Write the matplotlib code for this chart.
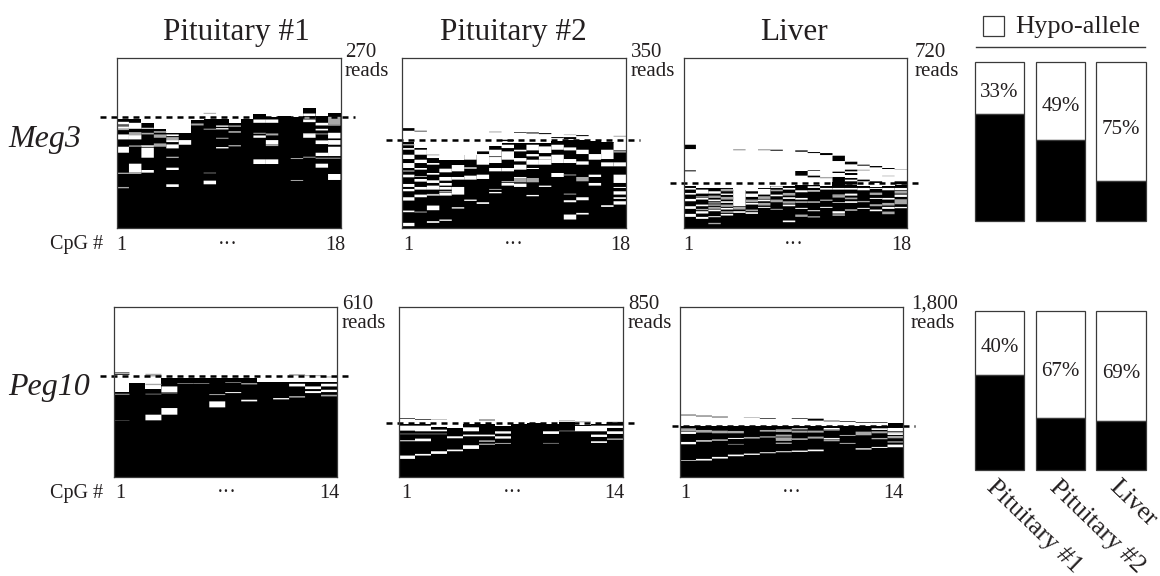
import matplotlib
matplotlib.use('Agg')
import matplotlib.pyplot as plt

plt.rcParams['font.family'] = ['Liberation Serif', 'DejaVu Serif']

tissues = ['Pituitary #1', 'Pituitary #2', 'Liver']

# read positions are in rows counted from the top of a panel, 510 rows high
# tops: first solid row of each CpG column, white/grey: bands cut out of the
# black per column, above: black dashes sitting over the solid part
meg3_p1_tops = [185, 185, 195, 213, 225, 225, 188, 185, 185, 195, 185, 168, 177, 175, 177, 150, 175, 165]
meg3_p1_white = [
    [(192, 200), (207, 213), (230, 245), (267, 285)], [(195, 213), (232, 245), (318, 345)],
    [(210, 213), (262, 268), (270, 300), (337, 345)], [],
    [(230, 235), (247, 253), (260, 272), (330, 337), (380, 388)], [(247, 261)], [],
    [(213, 215), (369, 380)], [(203, 207), (211, 215), (268, 272)], [], [],
    [(185, 195), (233, 240), (305, 319)], [(185, 195), (247, 259), (305, 319)], [], [],
    [(167, 175), (185, 193), (227, 240)],
    [(195, 203), (213, 218), (248, 259), (285, 295), (318, 330)],
    [(200, 203), (225, 242), (247, 261), (267, 295), (349, 367)],
]
meg3_p1_grey = [
    [(203, 207), (213, 217), (345, 349), (388, 392)], [(223, 232), (263, 267), (345, 349)],
    [(225, 230), (262, 266)], [(220, 225), (230, 240), (257, 267)], [(238, 247), (297, 301)], [],
    [(197, 203)], [(165, 168), (345, 347)], [(240, 243)], [(203, 207), (220, 225), (262, 266)], [],
    [(225, 228)], [(227, 233), (259, 265)], [], [(301, 304), (367, 370)],
    [(178, 183), (227, 229), (297, 300)], [(227, 230), (300, 303)], [(177, 200), (300, 303)],
]
meg3_p1_above = [[] for _ in range(18)]

meg3_p2_tops = [254, 271, 286, 306, 306, 291, 281, 266, 256, 256, 256, 256, 251, 246, 246, 251, 254, 276]
meg3_p2_white = [
    [(271, 276), (291, 304), (316, 331), (351, 359), (379, 388), (394, 401), (419, 429), (459, 464), (496, 506)],
    [(276, 291), (306, 316), (331, 336), (364, 372), (388, 396), (411, 419)],
    [(273, 301), (316, 321), (346, 351), (368, 376), (384, 396), (409, 414), (444, 458), (491, 496)],
    [(291, 306), (333, 344), (358, 369), (376, 384), (388, 396), (406, 414), (486, 490)],
    [(276, 306), (322, 341), (358, 366), (388, 411), (449, 453)],
    [(276, 306), (329, 333), (354, 366), (426, 430)],
    [(261, 281), (289, 321), (351, 364), (434, 439)],
    [(276, 296), (298, 316), (331, 341), (394, 396), (403, 407)],
    [(261, 271), (281, 306), (331, 341), (376, 384)],
    [(276, 281), (301, 311), (321, 336), (358, 361), (378, 388)],
    [(261, 278), (289, 296), (306, 321), (331, 334), (412, 416)],
    [(266, 286), (296, 306), (306, 321), (384, 388)],
    [(261, 276), (291, 316), (346, 358)],
    [(269, 278), (304, 316), (351, 353), (428, 434), (471, 486)],
    [(276, 289), (311, 321), (419, 428), (466, 471)],
    [(289, 306), (351, 358), (376, 384)],
    [(276, 304), (314, 326), (443, 448)],
    [(254, 278), (281, 284), (314, 326), (351, 376), (388, 391), (401, 411), (419, 424), (431, 441)],
]
meg3_p2_grey = [
    [(259, 263), (338, 342)], [(355, 358), (462, 465)], [(290, 293), (410, 412)], [(400, 405)], [], [], [],
    [(221, 224)], [(370, 374)], [(361, 374)], [(361, 374)], [], [], [(230, 232), (408, 411)],
    [(358, 371)], [], [], [(234, 237)],
]
meg3_p2_above = [
    [(211, 219)], [(219, 221)], [], [], [], [], [], [], [(246, 250)], [(223, 225)], [(224, 227)],
    [(226, 229)], [(238, 241)], [(238, 244)], [(232, 235)], [], [], [],
]

meg3_liver_tops = [384, 390, 392, 392, 396, 392, 392, 386, 384, 382, 382, 384, 374, 382, 386, 388, 384, 382]
meg3_liver_white = [
    [(391, 396), (406, 411), (424, 431), (446, 454), (469, 478)],
    [(396, 408), (421, 426), (441, 446), (461, 468), (478, 484)],
    [(401, 408), (426, 431), (441, 444), (456, 461), (476, 479)],
    [(408, 412), (431, 436), (451, 456), (469, 474)],
    [(396, 446), (461, 466)],
    [(391, 401), (408, 418), (436, 441), (464, 469)],
    [(394, 411), (426, 431), (448, 451)],
    [(386, 391), (411, 416), (454, 456)],
    [(391, 396), (419, 424), (441, 446), (489, 494)],
    [(398, 404), (421, 426), (451, 454)],
    [(386, 391), (398, 402), (458, 461)],
    [(391, 396), (448, 451)],
    [(391, 396), (411, 414), (434, 436), (461, 468)],
    [(391, 396), (408, 414), (431, 436)],
    [(391, 398), (451, 454)],
    [(391, 394), (421, 424), (456, 461)],
    [(391, 398), (421, 426), (448, 454)],
    [(391, 398), (411, 418), (448, 452)],
]
meg3_liver_grey = [
    [], [(416, 420), (454, 458)], [(414, 421), (434, 438), (448, 454), (496, 500)],
    [(394, 401), (418, 426), (441, 448), (461, 466)], [(274, 278), (448, 456)],
    [(426, 434), (456, 461)], [(274, 278), (416, 424), (436, 444)], [(396, 401), (426, 434)],
    [(406, 414), (431, 438)], [(431, 436), (471, 478)], [(431, 436), (476, 480)],
    [(358, 362), (426, 430)], [(414, 420), (470, 475)], [(420, 425), (455, 460)],
    [(336, 339), (430, 434)], [(405, 412), (440, 446)], [(354, 356), (436, 444), (462, 470)],
    [(334, 336), (400, 408), (425, 440)],
]
meg3_liver_above = [
    [(261, 274), (338, 341)], [], [], [], [], [], [], [(276, 279)], [],
    [(278, 282), (340, 354)], [(283, 286), (338, 340), (354, 359)], [(286, 292)],
    [(294, 310), (342, 346), (358, 381)], [(312, 320), (336, 341), (346, 352), (361, 366), (371, 381)],
    [(321, 324), (366, 371)], [(325, 329), (371, 376)], [(331, 334)], [(371, 380)],
]

peg10_p1_tops = [256, 229, 247, 214, 214, 214, 214, 214, 214, 227, 227, 227, 227, 227]
peg10_p1_white = [
    [], [], [(324, 341)], [(239, 256), (304, 324)], [], [], [(284, 302)], [(256, 259)],
    [(279, 284)], [], [(274, 278)], [(231, 239), (269, 272)], [(239, 247), (253, 259)],
    [(231, 239), (249, 256)],
]
peg10_p1_grey = [
    [(261, 264), (340, 341)], [], [(201, 209), (231, 235), (261, 263)], [(257, 260)],
    [(229, 231)], [(229, 231)], [(262, 265)], [(226, 228)], [(229, 233)], [], [],
    [(202, 207)], [(205, 208)], [(209, 212), (264, 269)],
]
peg10_p1_above = [
    [(197, 199), (201, 204)], [], [], [], [], [], [], [], [], [], [], [], [], [],
]

peg10_p2_tops = [351, 351, 361, 363, 351, 351, 357, 351, 349, 351, 345, 354, 351, 347]
peg10_p2_white = [
    [(357, 372), (401, 404), (447, 457)], [(357, 374), (396, 404), (442, 447)],
    [(369, 374), (434, 442)], [(389, 395), (429, 434)], [(362, 374), (384, 389), (416, 427)],
    [(384, 389)], [(374, 381), (389, 396)], [], [], [(374, 382)], [], [(358, 374)],
    [(357, 374), (384, 391), (404, 409)], [(357, 364), (374, 382), (396, 399)],
]
peg10_p2_grey = [
    [(381, 383)], [(381, 383)], [(337, 339), (381, 383)], [], [], [(401, 406), (411, 415)],
    [(409, 412)], [], [], [(409, 411)], [(341, 344), (372, 374)], [(344, 347)], [], [(345, 347)],
]
peg10_p2_above = [
    [(334, 336)], [(337, 339)], [], [], [], [(339, 341)], [], [], [], [], [], [], [], [],
]

peg10_liver_tops = [359, 359, 359, 359, 359, 359, 359, 359, 359, 359, 359, 359, 359, 349]
peg10_liver_white = [
    [(376, 382), (406, 413), (461, 463)], [(401, 405), (457, 462)], [(451, 456)],
    [(394, 397), (444, 449)], [(441, 445)], [(437, 440)], [(393, 396), (434, 437)],
    [(365, 368), (432, 436)], [(429, 434)], [(364, 369), (394, 397)], [(409, 411)],
    [(425, 429)], [(365, 370), (421, 424)], [(364, 374), (379, 385), (414, 422)],
]
peg10_liver_grey = [
    [(365, 375)], [(370, 378)], [(372, 380), (398, 403)], [(373, 380), (412, 414)],
    [(331, 333), (391, 396)], [(370, 375), (389, 393)],
    [(368, 376), (384, 390), (394, 403), (408, 412)], [(372, 378), (395, 400)],
    [(372, 378), (390, 396)], [(368, 372), (398, 404)], [(385, 388)], [(375, 386)],
    [(374, 380), (394, 398)], [(376, 380), (388, 395), (404, 408)],
]
peg10_liver_above = [
    [(324, 326)], [(327, 329)], [(330, 332)], [], [], [(334, 336)], [], [(334, 336)],
    [(336, 342)], [(342, 344)], [(344, 346)], [(346, 348)], [(347, 349)], [],
]

# row of the dashed threshold in each panel
meg3_cutoffs = [177, 248, 376]
peg10_cutoffs = [209, 349, 357]

meg3_reads = ['270', '350', '720']
peg10_reads = ['610', '850', '1,800']

meg3_hypo = [33, 49, 75]
peg10_hypo = [40, 67, 69]

INK = '#231f20'
W, H = 1160, 576
fig = plt.figure(figsize=(W / 100, H / 100), dpi=100)


def px_axes(left, top, right, bottom):
    return fig.add_axes([left / W, 1 - bottom / H, (right - left) / W, (bottom - top) / H])


def bands(ax, per_col, color):
    # not snapped, so thin reads come out soft like in the scan
    for col, items in enumerate(per_col):
        for start, end in items:
            bar = ax.bar(col + 0.5, end - start, bottom=start, width=1, color=color, linewidth=0)
            bar[0].set_snap(False)


def read_panel(box, tops, white, grey, above, cutoff, dash_px):
    left, top, right, bottom = box
    ax = px_axes(left, top, right, bottom)
    n = len(tops)
    # run the solid part past the axes floor, the clip cuts it
    ax.bar([i + 0.5 for i in range(n)], [530 - t for t in tops], bottom=tops, width=1,
           color='black', linewidth=0)
    bands(ax, white, 'white')
    bands(ax, grey, '#a8a8a8')
    bands(ax, above, 'black')
    ax.set_xlim(0, n)
    ax.set_ylim(510, 0)
    ax.set_xticks([])
    ax.set_yticks([])
    for s in ax.spines.values():
        s.set_linewidth(0.9)
        s.set_color('#3a3a3a')
    x0 = (dash_px[0] - left) / (right - left) * n
    x1 = (dash_px[1] - left) / (right - left) * n
    ax.plot([x0, x1], [cutoff, cutoff], color='black', lw=1.8, dashes=(2.4, 2.0), clip_on=False)


read_panel((116.5, 58, 340.5, 227.5), meg3_p1_tops, meg3_p1_white, meg3_p1_grey, meg3_p1_above,
           meg3_cutoffs[0], (100, 355))
read_panel((402, 58, 626, 227.5), meg3_p2_tops, meg3_p2_white, meg3_p2_grey, meg3_p2_above,
           meg3_cutoffs[1], (386, 640))
read_panel((683.5, 58, 907, 227.5), meg3_liver_tops, meg3_liver_white, meg3_liver_grey, meg3_liver_above,
           meg3_cutoffs[2], (670, 918))
read_panel((113.5, 307, 337, 476.5), peg10_p1_tops, peg10_p1_white, peg10_p1_grey, peg10_p1_above,
           peg10_cutoffs[0], (100, 352))
read_panel((399, 307, 623, 476.5), peg10_p2_tops, peg10_p2_white, peg10_p2_grey, peg10_p2_above,
           peg10_cutoffs[1], (386, 637))
read_panel((680, 307, 903.5, 476.5), peg10_liver_tops, peg10_liver_white, peg10_liver_grey, peg10_liver_above,
           peg10_cutoffs[2], (672, 915))


def hypo_bars(top, bottom, hypo):
    ax = px_axes(975, top, 1146, bottom)
    xs = range(len(hypo))
    ax.bar(xs, hypo, bottom=[100 - h for h in hypo], width=0.81, color='white',
           edgecolor='#3a3a3a', linewidth=0.9, clip_on=False)
    ax.bar(xs, [100 - h for h in hypo], width=0.81, color='black', edgecolor='#3a3a3a',
           linewidth=0.9, clip_on=False)
    for x, h in zip(xs, hypo):
        ax.text(x, 100 - h * 0.56 - 0.5, f'{h}%', ha='center', va='center', fontsize=15, color=INK)
    ax.set_xlim(-0.405, 2.41)
    ax.set_ylim(0, 100)
    ax.axis('off')


hypo_bars(62, 221, meg3_hypo)
hypo_bars(311, 470, peg10_hypo)

# everything else is placed in picture pixels
page = fig.add_axes([0, 0, 1, 1], facecolor='none')
page.set_xlim(0, W)
page.set_ylim(H, 0)
page.axis('off')

for name, x in zip(tissues, [236, 513, 794]):
    page.text(x, 40, name, ha='center', va='baseline', fontsize=22.5, color=INK)

page.text(8, 147, 'Meg3', style='italic', va='baseline', fontsize=23, color=INK)
page.text(8, 395, 'Peg10', style='italic', va='baseline', fontsize=23, color=INK)

for label, x in zip(meg3_reads, [345, 631, 915]):
    page.text(x, 57, label, va='baseline', fontsize=15, color=INK)
    page.text(x, 76, 'reads', va='baseline', fontsize=15, color=INK)
for label, x in zip(peg10_reads, [342, 628, 911]):
    page.text(x, 309, label, va='baseline', fontsize=15, color=INK)
    page.text(x, 328, 'reads', va='baseline', fontsize=15, color=INK)


def cpg_ticks(y, last, firsts, dots, lasts):
    page.text(50, y, 'CpG #', va='baseline', fontsize=14.5, color=INK)
    for a, b, c in zip(firsts, dots, lasts):
        page.text(a, y, '1', ha='center', va='baseline', fontsize=14.5, color=INK)
        page.text(b, y, '\u00b7\u00b7\u00b7', ha='center', va='baseline', fontsize=14.5, color=INK)
        page.text(c, y, last, ha='center', va='baseline', fontsize=14.5, color=INK)


cpg_ticks(249.5, '18', [121, 408, 688], [228, 514, 794], [335, 620, 901])
cpg_ticks(498, '14', [120, 406, 685], [227, 513, 792], [329, 614, 893])

page.add_patch(plt.Rectangle((983, 16), 21, 20, facecolor='white', edgecolor='#3a3a3a', linewidth=0.9))
page.text(1015, 33, 'Hypo-allele', va='baseline', fontsize=19, color=INK)
page.plot([976, 1145], [46.5, 46.5], color='#3a3a3a', lw=1)

for name, x in zip(tissues, [985, 1048, 1108]):
    page.text(x, 488, name, rotation=-44, rotation_mode='anchor', ha='left', va='baseline',
              fontsize=18.8, color=INK)

fig.savefig('out.png', dpi=100)
